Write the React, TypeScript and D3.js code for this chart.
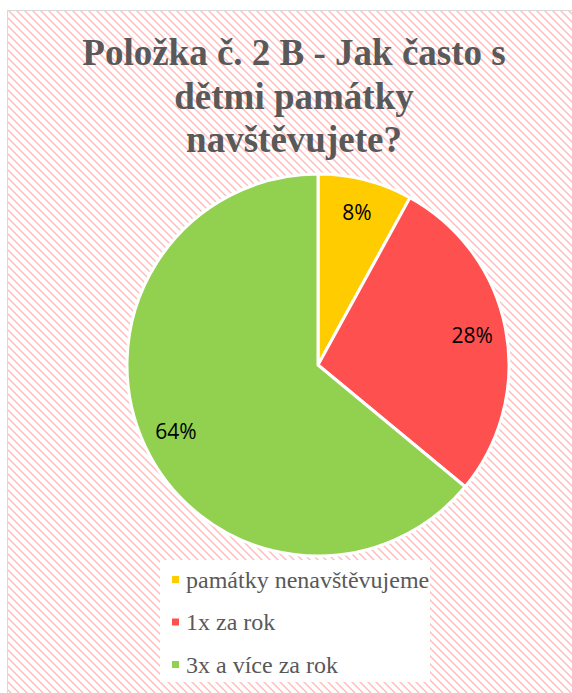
import React from "react";
import * as d3 from "d3";

const categories = ["památky nenavštěvujeme", "1x za rok", "3x a více za rok"];
const values = [8, 28, 64];
const labels = ["8%", "28%", "64%"];
const colors = ["#FFCC00", "#FF5050", "#92D050"];
const titleLines = ["Položka č. 2 B - Jak často s", "dětmi památky", "navštěvujete?"];

export default function App() {
  const W = 572, H = 693;
  const cx = 318, cy = 365, R = 191;
  const pie = d3.pie<number>().sort(null).value((d) => d)(values);
  const arc = d3.arc<d3.PieArcDatum<number>>().innerRadius(0).outerRadius(R);
  const labelArc = d3.arc<d3.PieArcDatum<number>>().innerRadius(157 * 2 - R).outerRadius(R);

  const pix: JSX.Element[] = [];
  for (let y = 0; y < 8; y++) {
    for (let k = 0; k < 3; k++) {
      const x = (y + k) % 8;
      pix.push(
        <rect key={`${y}-${k}`} x={x} y={y} width={1} height={1} fill={k === 1 ? "#ffbdbd" : "#ffdcdc"} />
      );
    }
  }

  return (
    <svg width={W} height={H} style={{ position: "absolute", left: 0, top: 0 }}>
      <defs>
        <pattern id="hatch" x={7} y={10} width={8} height={8} patternUnits="userSpaceOnUse">
          <rect width={8} height={8} fill="#ffffff" />
          <g shapeRendering="crispEdges">{pix}</g>
        </pattern>
      </defs>
      <rect x={0} y={0} width={W} height={H} fill="#ffffff" />
      <rect x={7.5} y={10.5} width={W} height={H} fill="url(#hatch)" stroke="#d9d9d9" strokeWidth={1} />
      <g fontFamily="'Liberation Serif', 'Times New Roman', serif" fontWeight="bold" fontSize={37} fill="#595959" textAnchor="middle">
        {titleLines.map((t, i) => (
          <text key={i} x={294} y={65 + i * 43.5}>{t}</text>
        ))}
      </g>
      <g transform={`translate(${cx},${cy})`}>
        {pie.map((p, i) => (
          <path key={i} d={arc(p) || ""} fill={colors[i]} stroke="#ffffff" strokeWidth={3} strokeLinejoin="round" />
        ))}
        {pie.map((p, i) => {
          const [lx, ly] = labelArc.centroid(p);
          return (
            <text key={i} x={lx} y={ly} dy="0.35em" textAnchor="middle" fontFamily="'Open Sans', sans-serif" fontSize={21} fill="#000000">
              {labels[i]}
            </text>
          );
        })}
      </g>
      <rect x={160} y={560} width={270} height={122} fill="#ffffff" />
      <g fontFamily="'Liberation Serif', 'Times New Roman', serif" fontSize={24} fill="#595959">
        {categories.map((c, i) => (
          <g key={i} transform={`translate(172,${576 + i * 42.5})`}>
            <rect x={0} y={0} width={7} height={7} fill={colors[i]} />
            <text x={14} y={11.5}>{c}</text>
          </g>
        ))}
      </g>
    </svg>
  );
}
